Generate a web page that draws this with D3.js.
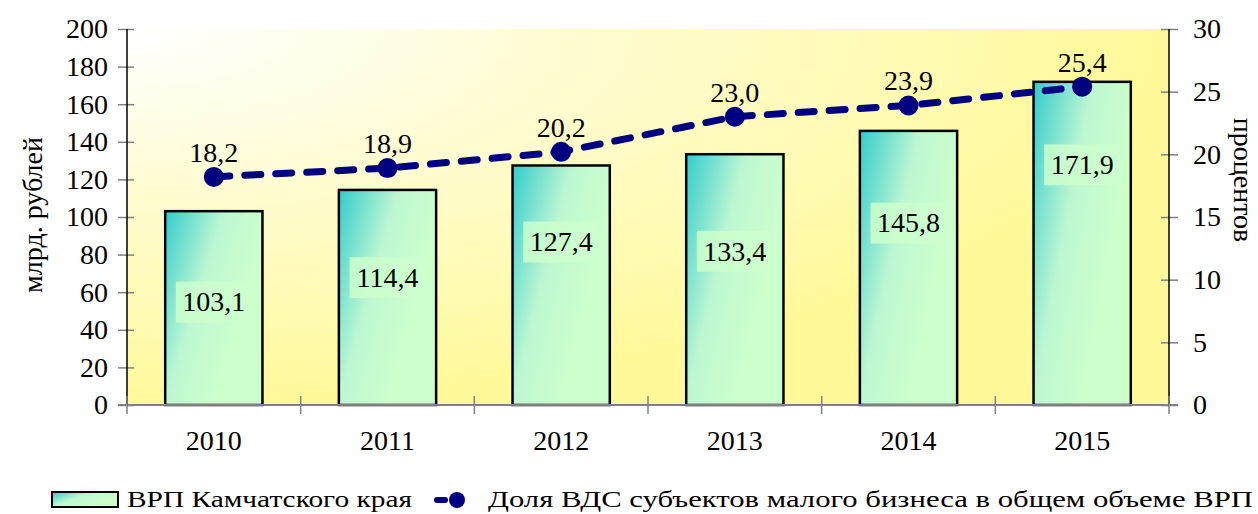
<!DOCTYPE html>
<html>
<head>
<meta charset="utf-8">
<script src="https://cdn.jsdelivr.net/npm/d3@7"></script>
<style>
  body { margin: 0; background: #fff; }
</style>
</head>
<body>
<script>
const years = ["2010", "2011", "2012", "2013", "2014", "2015"];
const vrp = [103.1, 114.4, 127.4, 133.4, 145.8, 171.9];
const share = [18.2, 18.9, 20.2, 23.0, 23.9, 25.4];
const leftTicks = [0, 20, 40, 60, 80, 100, 120, 140, 160, 180, 200];
const rightTicks = [0, 5, 10, 15, 20, 25, 30];
// where the bar labels sit (in млрд. units), hand placed like in the original
const barLabelAt = [55, 68, 87, 82, 97, 128];

const w = 1258;
const h = 514;
const padL = 127, padR = 1169, padT = 29, padB = 405;
const font = "'Liberation Serif', 'Times New Roman', 'DejaVu Serif', serif";
const fs = 28;

const fmt = (v) => v.toFixed(1).replace(".", ",");

const svg = d3.select("body").append("svg")
  .attr("width", w).attr("height", h)
  .attr("font-family", font);
const defs = svg.append("defs");

// plot background: pale at top left, yellow elsewhere
const bg = defs.append("radialGradient").attr("id", "bg")
  .attr("cx", "0").attr("cy", "0").attr("r", "1");
bg.append("stop").attr("offset", "0").attr("stop-color", "#ffffff");
bg.append("stop").attr("offset", "0.45").attr("stop-color", "#fffcd0");
bg.append("stop").attr("offset", "1").attr("stop-color", "#fff99a");

// bar fill: teal corner fading to mint
const bf = defs.append("linearGradient").attr("id", "barFill")
  .attr("x1", "0").attr("y1", "0").attr("x2", "0.8").attr("y2", "0.5");
bf.append("stop").attr("offset", "0").attr("stop-color", "#33cccc");
bf.append("stop").attr("offset", "0.55").attr("stop-color", "#bdf7d2");
bf.append("stop").attr("offset", "1").attr("stop-color", "#ccffcc");

const xScale = d3.scaleBand().domain(years).range([padL, padR]).paddingInner(0.44).paddingOuter(0.22);
const yLeft = d3.scaleLinear().domain([0, 200]).range([padB, padT]);
const yRight = d3.scaleLinear().domain([0, 30]).range([padB, padT]);

svg.append("rect")
  .attr("x", padL).attr("y", padT)
  .attr("width", padR - padL).attr("height", padB - padT)
  .attr("fill", "url(#bg)");

// bars
svg.selectAll("rect.bar")
  .data(vrp)
  .enter()
  .append("rect")
  .attr("class", "bar")
  .attr("x", (d, i) => xScale(years[i]))
  .attr("y", (d) => yLeft(d))
  .attr("width", xScale.bandwidth())
  .attr("height", (d) => padB - yLeft(d))
  .attr("fill", "url(#barFill)")
  .attr("stroke", "#000")
  .attr("stroke-width", 2.5);

// bar value labels with mint boxes
const bl = svg.selectAll("g.blabel")
  .data(vrp)
  .enter()
  .append("g")
  .attr("transform", (d, i) => "translate(" + (xScale(years[i]) + xScale.bandwidth() / 2) + "," + yLeft(barLabelAt[i]) + ")");
bl.append("rect")
  .attr("x", -38).attr("y", -20).attr("width", 76).attr("height", 41)
  .attr("fill", "#ccffcc").attr("opacity", 0.85);
bl.append("text")
  .attr("text-anchor", "middle").attr("dy", "0.35em")
  .attr("font-size", fs)
  .text((d) => fmt(d));

// axes
const axL = d3.axisLeft(yLeft).tickValues(leftTicks).tickSize(0).tickPadding(19);
const gL = svg.append("g").attr("transform", "translate(" + padL + ",0)").call(axL);
gL.attr("font-family", font).attr("font-size", fs);
gL.select(".domain").remove();
gL.selectAll("text").attr("fill", "#000");
gL.selectAll(".tick").append("line").attr("x1", -9).attr("x2", 7).attr("stroke", "#808080").attr("stroke-width", 1.5);
svg.append("line").attr("x1", padL).attr("x2", padL).attr("y1", padT).attr("y2", padB).attr("stroke", "#000").attr("stroke-width", 1.5);

const axR = d3.axisRight(yRight).tickValues(rightTicks).tickSize(0).tickPadding(24);
const gR = svg.append("g").attr("transform", "translate(" + padR + ",0)").call(axR);
gR.attr("font-family", font).attr("font-size", fs);
gR.select(".domain").remove();
gR.selectAll("text").attr("fill", "#000");
gR.selectAll(".tick").append("line").attr("x1", -8).attr("x2", 9).attr("stroke", "#808080").attr("stroke-width", 1.5);
svg.append("line").attr("x1", padR).attr("x2", padR).attr("y1", padT).attr("y2", padB).attr("stroke", "#000").attr("stroke-width", 1.5);

// bottom axis: gray line, ticks between categories
svg.append("line").attr("x1", padL - 9).attr("x2", padR + 9).attr("y1", padB).attr("y2", padB)
  .attr("stroke", "#808080").attr("stroke-width", 2);
svg.selectAll("line.xtick")
  .data(d3.range(years.length + 1))
  .enter()
  .append("line")
  .attr("x1", (d) => padL + d * xScale.step())
  .attr("x2", (d) => padL + d * xScale.step())
  .attr("y1", padB - 9).attr("y2", padB + 9)
  .attr("stroke", "#808080").attr("stroke-width", 1.5);
svg.selectAll("text.xlab")
  .data(years)
  .enter()
  .append("text")
  .attr("x", (d) => xScale(d) + xScale.bandwidth() / 2)
  .attr("y", 450)
  .attr("text-anchor", "middle")
  .attr("font-size", fs)
  .text((d) => d);

// line series
const cx = (i) => xScale(years[i]) + xScale.bandwidth() / 2;
const line = d3.line().x((d, i) => cx(i)).y((d) => yRight(d));
svg.append("path")
  .datum(share)
  .attr("d", line)
  .attr("fill", "none")
  .attr("stroke", "#000080")
  .attr("stroke-width", 7)
  .attr("stroke-linecap", "round")
  .attr("stroke-dasharray", "16,15");
svg.selectAll("circle.pt")
  .data(share)
  .enter()
  .append("circle")
  .attr("cx", (d, i) => cx(i))
  .attr("cy", (d) => yRight(d))
  .attr("r", 10)
  .attr("fill", "#000080");
svg.selectAll("text.plabel")
  .data(share)
  .enter()
  .append("text")
  .attr("x", (d, i) => cx(i))
  .attr("y", (d) => yRight(d) - 15)
  .attr("text-anchor", "middle")
  .attr("font-size", fs)
  .text((d) => fmt(d));

// axis titles
svg.append("text")
  .attr("transform", "translate(42,215) rotate(-90)")
  .attr("text-anchor", "middle")
  .attr("font-size", fs)
  .text("млрд. рублей");
svg.append("text")
  .attr("transform", "translate(1234,180) rotate(90)")
  .attr("text-anchor", "middle")
  .attr("font-size", fs)
  .text("процентов");

// legend
svg.append("rect")
  .attr("x", 52).attr("y", 492).attr("width", 66).attr("height", 15)
  .attr("fill", "url(#barFill)").attr("stroke", "#000").attr("stroke-width", 2);
svg.append("text").attr("x", 127).attr("y", 507).attr("font-size", 24)
  .attr("textLength", 285).attr("lengthAdjust", "spacingAndGlyphs")
  .text("ВРП Камчатского края");
svg.append("line")
  .attr("x1", 437).attr("x2", 475).attr("y1", 500).attr("y2", 500)
  .attr("stroke", "#000080").attr("stroke-width", 6).attr("stroke-linecap", "round")
  .attr("stroke-dasharray", "8,30");
svg.append("circle").attr("cx", 457).attr("cy", 500).attr("r", 8).attr("fill", "#000080");
svg.append("text").attr("x", 488).attr("y", 507).attr("font-size", 24)
  .attr("textLength", 765).attr("lengthAdjust", "spacingAndGlyphs")
  .text("Доля ВДС субъектов малого бизнеса в общем объеме ВРП");
</script>
</body>
</html>
